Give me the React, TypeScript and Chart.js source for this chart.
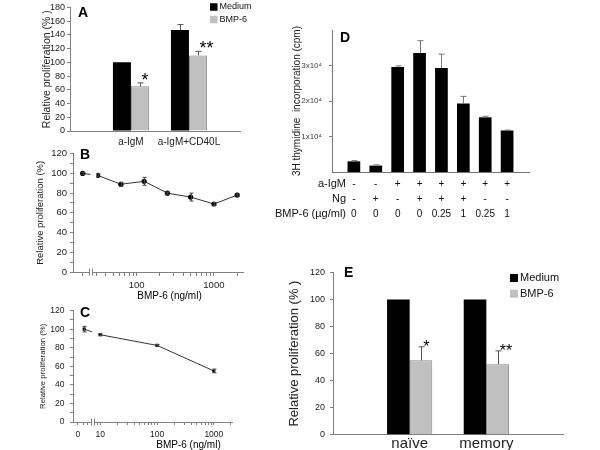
import { useEffect, useRef } from "react";
import { Chart, registerables, type ChartConfiguration, type Plugin } from "chart.js";

Chart.register(...registerables);

const FONT = "'Liberation Sans', Arial, Helvetica, sans-serif";
Chart.defaults.font.family = FONT;
Chart.defaults.color = "#222";

// ---------- data ----------
const seriesNames = ["Medium", "BMP-6"];

// A: anti-IgM vs anti-IgM + CD40L
const groupsA = ["a-IgM", "a-IgM+CD40L"];
const mediumA = [100, 147];
const bmpA = [65, 110];
const mediumErrA = [0, 8];
const bmpErrA = [5, 6];
const starsA = ["*", "**"];

// B: dose response, first dose is the 0 ng/ml control drawn left of the axis break
const dosesB = [20, 31.25, 62.5, 125, 250, 500, 1000, 2000];
const valuesB = [100, 98, 89, 92, 80, 76, 69, 78];
const errB = [0.8, 1.5, 2, 4, 1, 4, 1.5, 1];
const labelTicksB = [100, 1000];

// C: dose response, same layout
const dosesC = [5.2, 10, 100, 1000];
const valuesC = [100, 94, 82.5, 55];
const errC = [3, 1, 1, 2];
const labelTicksC = [10, 100, 1000];
const zeroTickC = 4;

const yTicksBC = [0, 10, 20, 30, 40, 50, 60, 70, 80, 90, 100, 110, 120];

// D: 3H thymidine incorporation, x10^4 cpm
const cpmD = [0.3, 0.18, 2.96, 3.35, 2.93, 1.93, 1.54, 1.17];
const errD = [0.02, 0.02, 0.03, 0.35, 0.39, 0.2, 0.03, 0.01];
const ticksD = [1, 2, 3];
const rowLabelsD = ["a-IgM", "Ng", "BMP-6 (µg/ml)"];
const aIgmD = ["-", "-", "+", "+", "+", "+", "+", "+"];
const ngD = ["-", "+", "-", "+", "+", "+", "-", "-"];
const bmpD = ["0", "0", "0", "0", "0.25", "1", "0.25", "1"];

// E: naive vs memory
const groupsE = ["naïve", "memory"];
const mediumE = [100, 100];
const bmpE = [55, 52];
const mediumErrE = [0, 0];
const bmpErrE = [10, 10];
const starsE = ["*", "**"];

// ---------- helpers ----------
const axisColor = "#808080";
const black = "#000";
const gray = "#c0c0c0";
const grayEdge = "#8a8a8a";

const atIndex = (ys: number[]) => ys.map((y, i) => ({ x: i + 1, y }));
const atDose = (xs: number[], ys: number[]) => ys.map((y, i) => ({ x: xs[i], y }));
const fixedWidth = (w: number) => (s: any) => {
  s.width = w;
};
const fixedHeight = (h: number) => (s: any) => {
  s.height = h;
};
const setTicks = (vals: number[]) => (s: any) => {
  s.ticks = vals.map((value) => ({ value }));
};
const logTicks = (from: number, to: number) => {
  const out: number[] = [];
  for (let d = 1; d <= 1000; d *= 10)
    for (let k = 1; k <= 9; k++) if (k * d >= from && k * d <= to) out.push(k * d);
  return out;
};

type Txt = { text: string; x: number; y: number; size: number; bold?: boolean; align?: CanvasTextAlign };

const textPlugin = (items: Txt[]): Plugin => ({
  id: "texts",
  afterDraw(chart) {
    const { ctx } = chart;
    ctx.save();
    ctx.textBaseline = "middle";
    ctx.fillStyle = "#000";
    for (const t of items) {
      ctx.font = `${t.bold ? "bold " : ""}${t.size}px ${FONT}`;
      ctx.textAlign = t.align ?? "left";
      ctx.fillText(t.text, t.x, t.y);
    }
    ctx.restore();
  },
});

const legendPlugin = (x: number, y: number, gap: number, box: number, size: number): Plugin => ({
  id: "boxLegend",
  afterDraw(chart) {
    const { ctx } = chart;
    ctx.save();
    ctx.textBaseline = "middle";
    ctx.font = `${size}px ${FONT}`;
    chart.data.datasets.forEach((ds: any, i) => {
      const cy = y + i * gap;
      ctx.fillStyle = ds.backgroundColor;
      ctx.fillRect(x, cy - box / 2, box, box);
      ctx.fillStyle = "#111";
      ctx.fillText(ds.label, x + box + 2, cy);
    });
    ctx.restore();
  },
});

const errorBarPlugin = (errs: number[][], both: boolean, color: string, cap: number): Plugin => ({
  id: "errorBars",
  afterDatasetsDraw(chart) {
    const { ctx } = chart;
    const ys = chart.scales.y;
    ctx.save();
    ctx.strokeStyle = color;
    ctx.lineWidth = 1;
    errs.forEach((list, di) => {
      const meta = chart.getDatasetMeta(di);
      meta.data.forEach((el: any, j) => {
        const e = list[j];
        if (!e) return;
        const v = (chart.data.datasets[di].data[j] as any).y;
        const top = ys.getPixelForValue(v + e);
        const bot = both ? ys.getPixelForValue(v - e) : el.y;
        const px = Math.round(el.x) + 0.5;
        ctx.beginPath();
        ctx.moveTo(px, bot);
        ctx.lineTo(px, top);
        ctx.moveTo(px - cap / 2, top);
        ctx.lineTo(px + cap / 2, top);
        if (both) {
          ctx.moveTo(px - cap / 2, bot);
          ctx.lineTo(px + cap / 2, bot);
        }
        ctx.stroke();
      });
    });
    ctx.restore();
  },
});

const starPlugin = (di: number, marks: string[], errs: number[], dx: number, dy: number, size: number): Plugin => ({
  id: "stars",
  afterDatasetsDraw(chart) {
    const { ctx } = chart;
    const ys = chart.scales.y;
    ctx.save();
    ctx.font = `${size}px ${FONT}`;
    ctx.fillStyle = "#000";
    ctx.textAlign = "left";
    ctx.textBaseline = "alphabetic";
    chart.getDatasetMeta(di).data.forEach((el: any, j) => {
      if (!marks[j]) return;
      const v = (chart.data.datasets[di].data[j] as any).y;
      ctx.fillText(marks[j], el.x + dx, ys.getPixelForValue(v + errs[j]) + dy);
    });
    ctx.restore();
  },
});

// white gap through the plot plus the "||" mark on the x axis
const axisBreakPlugin = (at: number, before: number, after: number): Plugin => ({
  id: "axisBreak",
  afterDatasetsDraw(chart) {
    const { ctx, chartArea } = chart;
    const px = chart.scales.x.getPixelForValue(at);
    ctx.save();
    ctx.fillStyle = "#fff";
    ctx.fillRect(px - before, chartArea.top, before + after, chartArea.bottom - chartArea.top - 1);
    ctx.restore();
  },
  afterDraw(chart) {
    const { ctx, chartArea } = chart;
    const px = Math.round(chart.scales.x.getPixelForValue(at));
    const y = chartArea.bottom;
    ctx.save();
    ctx.fillStyle = "#fff";
    ctx.fillRect(px - 1, y - 3, 2, 6);
    ctx.strokeStyle = axisColor;
    ctx.lineWidth = 1;
    ctx.beginPath();
    ctx.moveTo(px - 1.5, y - 3.5);
    ctx.lineTo(px - 1.5, y + 3.5);
    ctx.moveTo(px + 1.5, y - 3.5);
    ctx.lineTo(px + 1.5, y + 3.5);
    ctx.stroke();
    ctx.restore();
  },
});

const tablePlugin = (labels: string[], rows: string[][], labelX: number, y0: number, dy: number): Plugin => ({
  id: "conditionTable",
  afterDraw(chart) {
    const { ctx } = chart;
    const xs = chart.scales.x;
    ctx.save();
    ctx.textBaseline = "middle";
    ctx.fillStyle = "#111";
    rows.forEach((row, r) => {
      const y = y0 + r * dy;
      ctx.font = `11px ${FONT}`;
      ctx.textAlign = "right";
      ctx.fillText(labels[r], labelX, y);
      ctx.font = `10px ${FONT}`;
      ctx.textAlign = "center";
      row.forEach((v, j) => ctx.fillText(v, xs.getPixelForValue(j + 1), y));
    });
    ctx.restore();
  },
});

const base = {
  animation: false as const,
  responsive: false,
  events: [],
  plugins: { legend: { display: false }, tooltip: { enabled: false } },
};

// ---------- panel configs ----------
const configA: ChartConfiguration<"bar"> = {
  type: "bar",
  data: {
    datasets: [
      { label: seriesNames[0], data: atIndex(mediumA) as any, backgroundColor: black, borderWidth: 0 },
      { label: seriesNames[1], data: atIndex(bmpA) as any, backgroundColor: gray, borderColor: grayEdge, borderWidth: 1 },
    ],
  },
  options: {
    ...base,
    datasets: { bar: { categoryPercentage: 0.62, barPercentage: 1 } },
    layout: { padding: { left: 0, right: 22, top: 5, bottom: 0 } },
    scales: {
      x: {
        type: "linear",
        min: -0.05,
        max: 2.88,
        offset: false,
        afterBuildTicks: setTicks(groupsA.map((_, i) => i + 1)),
        afterFit: fixedHeight(21),
        grid: { display: false, drawTicks: false },
        border: { color: axisColor },
        ticks: { autoSkip: false, maxRotation: 0, padding: 5, font: { size: 10 }, callback: (v) => groupsA[Number(v) - 1] ?? "" },
      },
      y: {
        min: 0,
        max: 180,
        afterFit: fixedWidth(70),
        grid: { drawOnChartArea: false, tickLength: 3, color: axisColor },
        border: { color: axisColor },
        ticks: { autoSkip: false, stepSize: 20, padding: 2, font: { size: 9 } },
        title: { display: true, text: "Relative proliferation (% )", font: { size: 10.5 }, padding: { top: 41, bottom: 0 } },
      },
    },
  },
  plugins: [
    errorBarPlugin([mediumErrA, bmpErrA], false, "#555", 6),
    starPlugin(1, starsA, bmpErrA, 1.5, 3, 18),
    legendPlugin(210, 7, 12.5, 7.5, 9),
    textPlugin([{ text: "A", x: 78, y: 13, size: 14, bold: true }]),
  ],
};

const lineDataset = (label: string, data: any, pointStyle: string, radius: number) => ({
  label,
  data,
  borderColor: "#333",
  borderWidth: 1,
  pointStyle,
  pointRadius: radius,
  pointBackgroundColor: "#000",
  pointBorderWidth: 0,
});

const configB: ChartConfiguration<"line"> = {
  type: "line",
  data: { datasets: [lineDataset(seriesNames[1], atDose(dosesB, valuesB), "circle", 2.6) as any] },
  options: {
    ...base,
    layout: { padding: { left: 0, right: 19, top: 5, bottom: 0 } },
    scales: {
      x: {
        type: "logarithmic",
        min: 15,
        max: 2380,
        afterBuildTicks: setTicks(logTicks(20, 2000)),
        afterFit: fixedHeight(33),
        grid: { drawOnChartArea: false, tickLength: 4, color: axisColor },
        border: { color: axisColor },
        ticks: {
          autoSkip: false,
          maxRotation: 0,
          padding: 4,
          font: { size: 9.5 },
          callback: (v) => (labelTicksB.includes(Number(v)) ? String(v) : ""),
        },
      },
      y: {
        min: 0,
        max: 120,
        afterBuildTicks: setTicks(yTicksBC),
        afterFit: fixedWidth(73),
        grid: { drawOnChartArea: false, tickLength: 3, color: axisColor },
        border: { color: axisColor },
        ticks: { autoSkip: false, padding: 3, font: { size: 9.5 }, callback: (v) => (Number(v) % 20 === 0 ? String(v) : "") },
        title: { display: true, text: "Relative proliferation (%)", font: { size: 9.5 }, padding: { top: 35, bottom: 0 } },
      },
    },
  },
  plugins: [
    axisBreakPlugin(26, 1, 5),
    errorBarPlugin([errB], true, "#444", 4),
    textPlugin([
      { text: "B", x: 80, y: 10.5, size: 14, bold: true },
      { text: "BMP-6 (ng/ml)", x: 169.5, y: 151, size: 10, align: "center" },
    ]),
  ],
};

const configC: ChartConfiguration<"line"> = {
  type: "line",
  data: { datasets: [lineDataset(seriesNames[1], atDose(dosesC, valuesC), "rect", 2.2) as any] },
  options: {
    ...base,
    layout: { padding: { left: 0, right: 30, top: 9, bottom: 0 } },
    scales: {
      x: {
        type: "logarithmic",
        min: 3.3,
        max: 2090,
        afterBuildTicks: setTicks(logTicks(4, 2000)),
        afterFit: fixedHeight(30),
        grid: { drawOnChartArea: false, tickLength: 3, color: axisColor },
        border: { color: axisColor },
        ticks: {
          autoSkip: false,
          maxRotation: 0,
          padding: 5,
          font: { size: 8.5 },
          callback: (v) => (Number(v) === zeroTickC ? "0" : labelTicksC.includes(Number(v)) ? String(v) : ""),
        },
      },
      y: {
        min: 0,
        max: 120,
        afterBuildTicks: setTicks(yTicksBC),
        afterFit: fixedWidth(73),
        grid: { drawOnChartArea: false, tickLength: 3, color: axisColor },
        border: { color: axisColor },
        ticks: { autoSkip: false, padding: 5.5, font: { size: 8.5 }, callback: (v) => (Number(v) % 20 === 0 ? String(v) : "") },
        title: { display: true, text: "Relative proliferation (%)", font: { size: 7.8 }, padding: { top: 38, bottom: 0 } },
      },
    },
  },
  plugins: [
    axisBreakPlugin(7.4, 1, 5),
    errorBarPlugin([errC], true, "#444", 4),
    textPlugin([
      { text: "C", x: 80, y: 13, size: 14, bold: true },
      { text: "BMP-6 (ng/ml)", x: 188.5, y: 145.5, size: 10, align: "center" },
    ]),
  ],
};

const configD: ChartConfiguration<"bar"> = {
  type: "bar",
  data: { datasets: [{ label: "cpm", data: atIndex(cpmD) as any, backgroundColor: black, borderWidth: 0 }] },
  options: {
    ...base,
    datasets: { bar: { categoryPercentage: 0.58, barPercentage: 1 } },
    layout: { padding: { left: 0, right: 71, top: 30, bottom: 0 } },
    scales: {
      x: {
        type: "linear",
        min: 0,
        max: 9,
        offset: false,
        afterBuildTicks: setTicks(cpmD.map((_, i) => i + 1)),
        afterFit: fixedHeight(53),
        grid: { display: false, drawTicks: false },
        border: { color: "#777" },
        ticks: { display: false },
      },
      y: {
        min: 0,
        max: 4,
        afterBuildTicks: setTicks(ticksD),
        afterFit: fixedWidth(67),
        grid: { drawOnChartArea: false, tickLength: 3, color: "#777" },
        border: { color: "#777" },
        ticks: { autoSkip: false, padding: 7, font: { size: 8 }, color: "#444", callback: (v) => `${v}x10⁴` },
        title: { display: true, text: "3H thymidine  incorporation (cpm)", font: { size: 10 }, padding: { top: 26, bottom: 0 } },
      },
    },
  },
  plugins: [
    errorBarPlugin([errD], false, "#777", 6),
    tablePlugin(rowLabelsD, [aIgmD, ngD, bmpD], 81, 184, 15),
    textPlugin([{ text: "D", x: 75, y: 38, size: 14, bold: true }]),
  ],
};

const configE: ChartConfiguration<"bar"> = {
  type: "bar",
  data: {
    datasets: [
      { label: seriesNames[0], data: atIndex(mediumE) as any, backgroundColor: black, borderWidth: 0 },
      { label: seriesNames[1], data: atIndex(bmpE) as any, backgroundColor: gray, borderColor: grayEdge, borderWidth: 1 },
    ],
  },
  options: {
    ...base,
    datasets: { bar: { categoryPercentage: 0.59, barPercentage: 1 } },
    layout: { padding: { left: 0, right: 37, top: 6.7, bottom: 0 } },
    scales: {
      x: {
        type: "linear",
        min: 0,
        max: 3,
        offset: false,
        afterBuildTicks: setTicks(groupsE.map((_, i) => i + 1)),
        afterFit: fixedHeight(17.3),
        grid: { display: false, drawTicks: false },
        border: { color: axisColor },
        ticks: {
          autoSkip: false,
          maxRotation: 0,
          padding: 1,
          font: { size: 15, lineHeight: 1.1 },
          callback: (v) => groupsE[Number(v) - 1] ?? "",
        },
      },
      y: {
        min: 0,
        max: 120,
        afterFit: fixedWidth(63),
        grid: { drawOnChartArea: false, tickLength: 3, color: axisColor },
        border: { color: axisColor },
        ticks: { autoSkip: false, stepSize: 20, padding: 5, font: { size: 9 } },
        title: { display: true, text: "Relative proliferation (% )", font: { size: 13 }, padding: { top: 17, bottom: 0 } },
      },
    },
  },
  plugins: [
    errorBarPlugin([mediumErrE, bmpErrE], false, "#555", 6),
    starPlugin(1, starsE, bmpErrE, 2.2, 5, 16),
    legendPlugin(240, 16, 15.7, 8, 11),
    textPlugin([{ text: "E", x: 74, y: 11.5, size: 14, bold: true }]),
  ],
};

// ---------- components ----------
interface PanelProps {
  config: ChartConfiguration;
  left: number;
  top: number;
  width: number;
  height: number;
}

function Panel({ config, left, top, width, height }: PanelProps) {
  const canvasRef = useRef<HTMLCanvasElement>(null);

  useEffect(() => {
    if (!canvasRef.current) return;
    const chart = new Chart(canvasRef.current, config);
    return () => chart.destroy();
  }, [config]);

  return (
    <canvas
      ref={canvasRef}
      width={width}
      height={height}
      style={{ position: "absolute", left, top, width, height }}
    />
  );
}

export default function App() {
  return (
    <div
      style={{
        position: "absolute",
        left: 0,
        top: 0,
        width: 600,
        height: 450,
        overflow: "hidden",
        background: "#fff",
      }}
    >
      <Panel config={configA as ChartConfiguration} left={0} top={0} width={262} height={152} />
      <Panel config={configB as ChartConfiguration} left={0} top={145} width={262} height={160} />
      <Panel config={configC as ChartConfiguration} left={0} top={300} width={262} height={152} />
      <Panel config={configD as ChartConfiguration} left={265} top={0} width={335} height={225} />
      <Panel config={configE as ChartConfiguration} left={270} top={262} width={330} height={190} />
    </div>
  );
}
